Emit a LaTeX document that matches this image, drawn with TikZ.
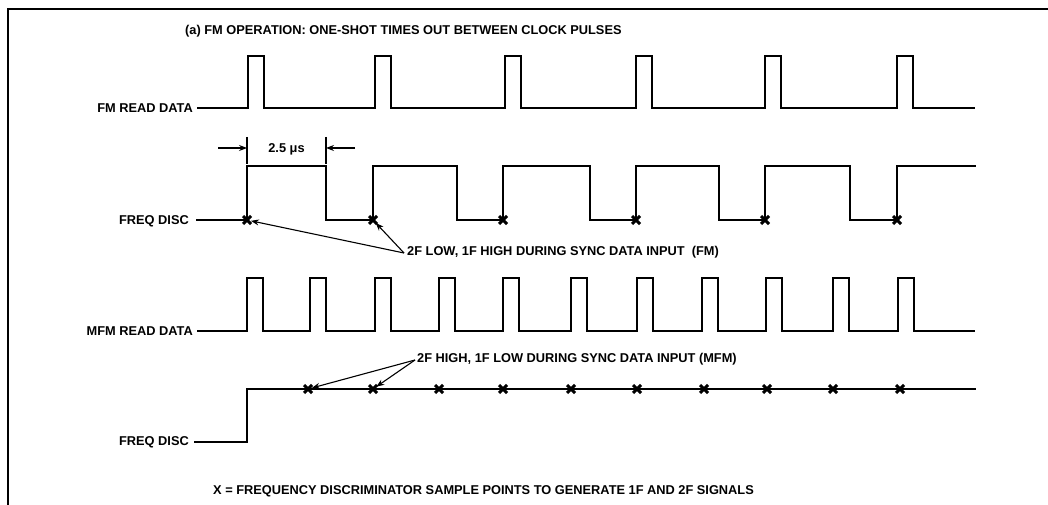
\documentclass[tikz,border=0pt]{standalone}
\usepackage{fontspec}
\setmainfont{Liberation Sans}
\usetikzlibrary{arrows.meta}
\begin{document}
\begin{tikzpicture}[x=1pt,y=-1pt,
  sig/.style={line width=2.6pt, line join=miter},
  lbl/.style={font=\bfseries\fontsize{12.8}{15}\selectfont, inner sep=0pt},
  ann/.style={line width=1.1pt, -{Stealth[length=8pt,width=6pt]}, shorten >=4pt},
  dim/.style={line width=1.1pt},
  xm/.style={line width=3pt}]
\useasboundingbox (0,0) rectangle (1048,505);
\fill[white] (0,0) rectangle (1048,505);
% frame
\draw[line width=2.2pt] (1048,9) -- (8,9) -- (8,505);
% title
\node[lbl, anchor=west] (title) at (185,31) {(a) FM OPERATION: ONE-SHOT TIMES OUT BETWEEN CLOCK PULSES};
% FM read data
\node[lbl, anchor=east] (fmrd) at (193,108) {FM READ DATA};
\draw[sig] (197,108) foreach \r in {248,375,505,636,765,897} { -- (\r,108) -- (\r,56) -- (\r+16,56) -- (\r+16,108) } -- (975,108);
% FM freq disc
\node[lbl, anchor=east] (fd1) at (189,221) {FREQ DISC};
\draw[sig] (196,220) -- (247,220) -- (247,166) -- (326,166) -- (326,220)
  -- (373,220) -- (373,166) -- (457,166) -- (457,220)
  -- (503,220) -- (503,166) -- (590,166) -- (590,220)
  -- (636,220) -- (636,166) -- (719,166) -- (719,220)
  -- (765,220) -- (765,166) -- (850,166) -- (850,220)
  -- (897,220) -- (897,166) -- (976,166);
\foreach \x/\n in {247/a1,373/a2,503/a3,636/a4,765/a5,897/a6} {
  \coordinate (\n) at (\x,220);
  \draw[xm] (\x-4,216) -- (\x+4,224) (\x-4,224) -- (\x+4,216);
}
% dimension 2.5 us
\coordinate (d1) at (247,148);
\coordinate (d2) at (326,148);
\draw[dim] (247,137) -- (247,164) (326,137) -- (326,164);
\draw[dim, -{Stealth[length=8pt,width=6pt]}] (218,148) -- (d1);
\draw[dim, -{Stealth[length=8pt,width=6pt]}] (355,148) -- (d2);
\node[lbl] (dimlbl) at (286.5,149) {2.5 μs};
% annotation FM
\node[lbl, anchor=west] (ann1) at (407,252) {2F LOW, 1F HIGH DURING SYNC DATA INPUT\ \ (FM)};
\draw[ann] ([xshift=-3pt,yshift=-1pt]ann1.west) -- (a1);
\draw[ann] ([xshift=-3pt,yshift=-1pt]ann1.west) -- (a2);
% MFM read data
\node[lbl, anchor=east] (mfmrd) at (193,331) {MFM READ\ DATA};
\draw[sig] (197,331) foreach \r in {247,310,375,439,503,571,637,702,766,833,898} { -- (\r,331) -- (\r,278) -- (\r+16,278) -- (\r+16,331) } -- (975,331);
% MFM freq disc
\node[lbl, anchor=east] (fd2) at (189,442) {FREQ\ DISC};
\draw[sig] (194,442) -- (247,442) -- (247,389) -- (976,389);
\foreach \x/\n in {308/b1,373/b2,439/b3,503/b4,571/b5,637/b6,704/b7,767/b8,833/b9,900/b10} {
  \coordinate (\n) at (\x,389);
  \draw[xm] (\x-4,385) -- (\x+4,393) (\x-4,393) -- (\x+4,385);
}
% annotation MFM
\node[lbl, anchor=west] (ann2) at (417,359) {2F HIGH, 1F LOW DURING SYNC DATA INPUT (MFM)};
\draw[ann] ([xshift=-2pt,yshift=-1pt]ann2.west) -- (b1);
\draw[ann] ([xshift=-2pt,yshift=-1pt]ann2.west) -- (b2);
% legend
\node[lbl, anchor=west] (legend) at (213,491) {X = FREQUENCY DISCRIMINATOR SAMPLE POINTS TO GENERATE 1F AND 2F SIGNALS};
\end{tikzpicture}
\end{document}
